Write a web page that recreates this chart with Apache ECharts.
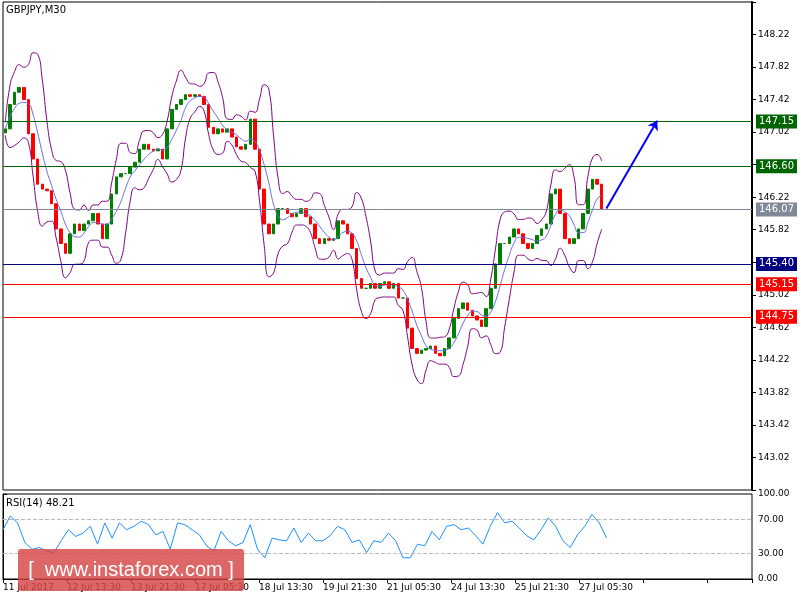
<!DOCTYPE html>
<html><head><meta charset="utf-8">
<script src="https://cdn.jsdelivr.net/npm/echarts@6/dist/echarts.min.js"></script>
<style>html,body{margin:0;padding:0;background:#fff}#c{width:800px;height:600px}</style>
</head><body><div id="c"></div>
<script>
const closes=[147.06,147.36,147.51,147.57,147.42,147.00,146.69,146.38,146.32,146.30,146.14,145.83,145.65,145.53,145.77,145.89,145.81,145.89,145.93,146.02,145.89,145.71,145.89,146.26,146.47,146.51,146.51,146.59,146.65,146.81,146.87,146.81,146.79,146.81,146.69,147.06,147.30,147.36,147.42,147.48,147.46,147.48,147.46,147.36,147.08,147.00,147.06,147.02,147.06,146.96,146.84,146.81,146.87,147.18,146.81,146.32,145.89,145.77,145.89,146.08,146.08,146.02,145.98,146.02,146.08,145.98,145.89,145.71,145.65,145.71,145.69,145.71,145.93,145.89,145.77,145.59,145.22,145.10,145.10,145.16,145.10,145.16,145.18,145.10,145.16,144.98,144.98,144.61,144.36,144.30,144.34,144.36,144.39,144.30,144.27,144.36,144.49,144.73,144.85,144.92,144.83,144.76,144.71,144.63,144.85,145.10,145.40,145.65,145.65,145.73,145.83,145.77,145.65,145.59,145.65,145.75,145.83,145.89,146.26,146.32,146.02,145.71,145.65,145.71,145.83,146.02,146.32,146.44,146.38,146.07];
const rsi=[58,74,66,43,35,37,33,31,45,58,50,54,62,41,66,48,66,58,62,68,64,52,56,35,66,64,58,52,39,33,56,45,39,43,64,35,25,48,46,45,60,43,54,45,45,51,62,58,43,46,31,45,43,54,45,25,25,41,39,56,46,62,64,58,60,51,41,62,78,66,68,60,51,46,58,72,62,45,37,52,62,76,66,48.21];
const dateLabels=['11 Jul 2017','12 Jul 13:30','13 Jul 21:30','17 Jul 05:30','18 Jul 13:30','19 Jul 21:30','21 Jul 05:30','24 Jul 13:30','25 Jul 21:30','27 Jul 05:30'];
const levels=[{v:147.15,c:'#006400'},{v:146.60,c:'#006400'},{v:146.07,c:'#808a96'},{v:145.40,c:'#000080'},{v:145.15,c:'#ff0000'},{v:144.75,c:'#ff0000'}];
const yTicks=[148.22,147.82,147.42,147.02,146.22,145.82,145.02,144.62,144.22,143.82,143.42,143.02];

const TOTAL=162;
const cats=[],candles=[],up=[],mid=[],lo=[];
for(let i=0;i<TOTAL;i++){cats.push(i);}
for(let i=0;i<closes.length;i++){
  const o=i?closes[i-1]:closes[0]-0.05,c=closes[i];
  candles.push([o,c,Math.min(o,c),Math.max(o,c)]);
  const P=5,s=closes.slice(Math.max(0,i-P+1),i+1);
  const m=s.reduce((a,b)=>a+b,0)/s.length;
  const sd=Math.sqrt(s.reduce((a,b)=>a+(b-m)*(b-m),0)/s.length);
  mid.push(m);up.push(m+2*sd+0.08);lo.push(m-2*sd-0.08);
}
const RT=104;const rcats=[];for(let i=0;i<RT;i++)rcats.push(i);

const chart=echarts.init(document.getElementById('c'));
chart.setOption({
  animation:false,
  textStyle:{fontFamily:'DejaVu Sans'},
  grid:[{left:3,right:48,top:2,bottom:110,show:true,borderColor:'#000',borderWidth:1},
        {left:3,right:48,top:494,bottom:21,show:true,borderColor:'#000',borderWidth:1}],
  xAxis:[{type:'category',data:cats,gridIndex:0,boundaryGap:true,axisLine:{show:false},axisTick:{show:false},axisLabel:{show:false}},
         {type:'category',data:rcats,gridIndex:1,boundaryGap:false,axisLine:{show:false},axisTick:{show:false},axisLabel:{show:false}},
         {type:'value',gridIndex:1,min:0,max:749,interval:64,position:'bottom',splitLine:{show:false},
          axisLine:{show:true,lineStyle:{color:'#000'}},axisTick:{show:true,length:4,lineStyle:{color:'#000'}},
          axisLabel:{color:'#000',fontSize:9,align:'left',margin:4,formatter:(v)=>dateLabels[Math.round(v/64)]||''}}],
  yAxis:[{type:'value',gridIndex:0,min:142.62,max:148.62,interval:0.4,position:'right',scale:true,
          splitLine:{show:false},axisLine:{show:true,lineStyle:{color:'#000',width:2}},
          axisTick:{show:true,length:4,lineStyle:{color:'#000'}},
          axisLabel:{color:'#000',fontSize:9,margin:6,formatter:(v)=>{const t=yTicks.find(x=>Math.abs(x-v)<0.01);return t?t.toFixed(2):'';}}},
         {type:'value',gridIndex:1,min:0,max:100,position:'right',splitLine:{show:false},
          axisLine:{show:true,lineStyle:{color:'#000'}},
          axisTick:{show:true,length:4,customValues:[0,30,70,100],lineStyle:{color:'#000'}},
          axisLabel:{color:'#000',fontSize:9,margin:6,customValues:[0,30,70,100],formatter:(v)=>v.toFixed(2)}}],
  series:[
    {type:'candlestick',xAxisIndex:0,yAxisIndex:0,data:candles,barWidth:3,
     itemStyle:{color:'#008000',color0:'#ff0000',borderColor:'#008000',borderColor0:'#ff0000',borderWidth:1},
     markLine:{silent:true,symbol:'none',
       data:levels.map(l=>({yAxis:l.v,lineStyle:{color:l.c,width:1,type:'solid'},
         label:{show:true,position:'end',formatter:l.v.toFixed(2),color:'#fff',backgroundColor:l.c,padding:[2,3],fontSize:10,distance:4}}))
       .concat([[{coord:[130,146.08],symbol:'none'},{coord:[141,147.16],symbol:'arrow',symbolSize:9}]].map(d=>{d[0].lineStyle={color:'#0000ff',width:2,type:'solid'};d[0].label={show:false};return d;}))}},
    {type:'line',xAxisIndex:0,yAxisIndex:0,data:up,showSymbol:false,smooth:true,lineStyle:{color:'#800080',width:1}},
    {type:'line',xAxisIndex:0,yAxisIndex:0,data:lo,showSymbol:false,smooth:true,lineStyle:{color:'#800080',width:1}},
    {type:'line',xAxisIndex:0,yAxisIndex:0,data:mid,showSymbol:false,smooth:true,lineStyle:{color:'#6a6ae0',width:1}},
    {type:'line',xAxisIndex:1,yAxisIndex:1,data:rsi,showSymbol:false,lineStyle:{color:'#1e90ff',width:1},
     markLine:{silent:true,symbol:'none',label:{show:false},lineStyle:{color:'#bbb',type:'dashed',width:1},data:[{yAxis:70},{yAxis:30}]}}
  ],
  graphic:[
    {type:'text',left:6,top:5,style:{text:'GBPJPY,M30',fill:'#000',font:'10px DejaVu Sans'}},
    {type:'text',left:6,top:498,style:{text:'RSI(14) 48.21',fill:'#000',font:'10px DejaVu Sans'}},
    {type:'rect',shape:{x:18,y:549,width:226,height:42,r:3},style:{fill:'rgba(214,70,70,0.82)'},z:100},
    {type:'text',x:131,y:570,z:101,style:{text:'[  www.instaforex.com ]',fill:'#fff',font:'20px "Liberation Sans", Arial',align:'center',verticalAlign:'middle'}}
  ]
});
</script></body></html>
